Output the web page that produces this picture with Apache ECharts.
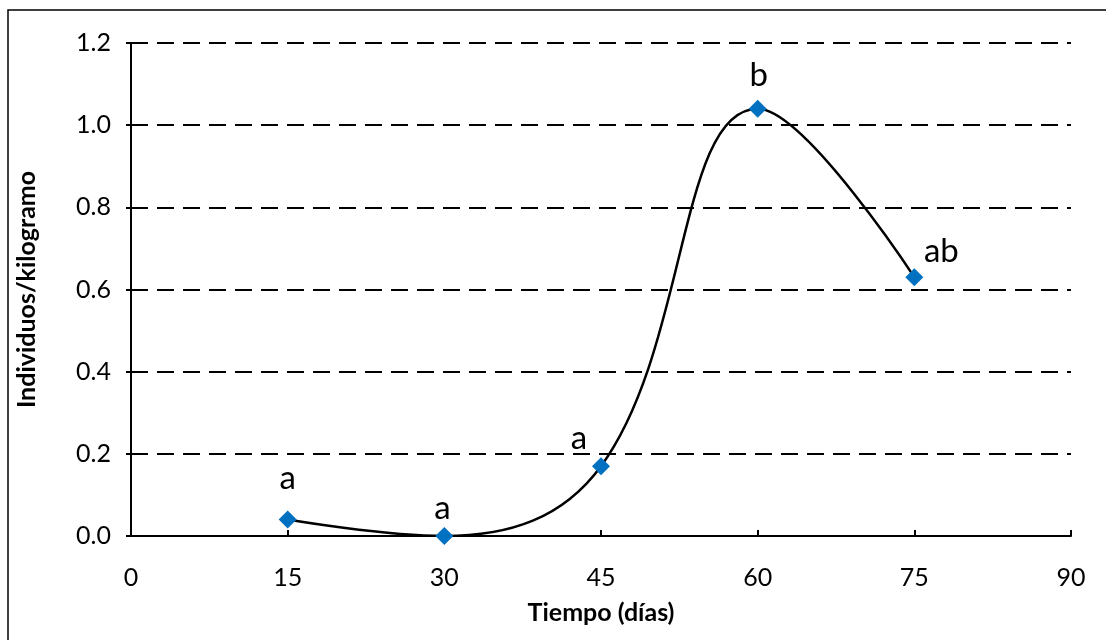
<!DOCTYPE html>
<html>
<head>
<meta charset="utf-8">
<script src="https://cdn.jsdelivr.net/npm/echarts@6/dist/echarts.min.js"></script>
<style>
  html, body { margin: 0; padding: 0; background: #fff; }
  #chart { width: 1106px; height: 640px; }
</style>
</head>
<body>
<div id="chart"></div>
<script>
// Sampling days and density of individuals per kilogram
const days = [15, 30, 45, 60, 75];
const individuals = [0.04, 0.0, 0.17, 1.04, 0.63];
// Significance letters shown above each point
const groups = ['a', 'a', 'a', 'b', 'ab'];
// Where each letter sits relative to its point
const labelOffsets = [[0, -41], [-2, -28], [-22, -28], [1, -33], [27, -26]];

const FONT = 'Lato, "Open Sans", sans-serif';

const chart = echarts.init(document.getElementById('chart'), null, { renderer: 'canvas' });

const points = days.map((d, i) => ({
  value: [d, individuals[i]],
  label: {
    show: true,
    position: 'inside',
    offset: labelOffsets[i],
    formatter: groups[i]
  }
}));

chart.setOption({
  backgroundColor: '#ffffff',
  animation: false,
  grid: { left: 131, right: 35, top: 43, bottom: 104, containLabel: false },
  graphic: [{
    type: 'rect',
    shape: { x: 8, y: 10, width: 1200, height: 700 },
    style: { fill: 'none', stroke: '#000', lineWidth: 1.5 },
    silent: true,
    z: -10
  }],
  xAxis: {
    type: 'value',
    min: 0, max: 90, interval: 15,
    name: 'Tiempo (días)',
    nameLocation: 'middle',
    nameGap: 64,
    nameTextStyle: { fontFamily: FONT, fontSize: 25, fontWeight: 'bold', color: '#000' },
    axisLine: { show: true, lineStyle: { color: '#000', width: 2 } },
    axisTick: { show: true, inside: true, length: 6, lineStyle: { color: '#000', width: 2 } },
    axisLabel: { fontFamily: FONT, fontSize: 25, color: '#000', margin: 29 },
    splitLine: { show: false }
  },
  yAxis: {
    type: 'value',
    min: 0, max: 1.2, interval: 0.2,
    name: 'Individuos/kilogramo',
    nameLocation: 'middle',
    nameGap: 92,
    nameRotate: 90,
    nameTextStyle: { fontFamily: FONT, fontSize: 25, fontWeight: 'bold', color: '#000' },
    axisLine: { show: true, lineStyle: { color: '#000', width: 2 } },
    axisTick: { show: true, inside: false, length: 5, lineStyle: { color: '#000', width: 2 } },
    axisLabel: {
      fontFamily: FONT, fontSize: 25, color: '#000', margin: 20,
      formatter: v => v.toFixed(1)
    },
    splitLine: { show: true, lineStyle: { color: '#000', width: 2, type: [17, 9] } }
  },
  series: [{
    type: 'line',
    data: points,
    smooth: 0.4,
    symbol: 'diamond',
    symbolSize: 18,
    lineStyle: { color: '#000', width: 2.5 },
    itemStyle: { color: '#0070C0' },
    label: { fontFamily: FONT, fontSize: 33, color: '#000' },
    z: 5
  }]
});
</script>
</body>
</html>
